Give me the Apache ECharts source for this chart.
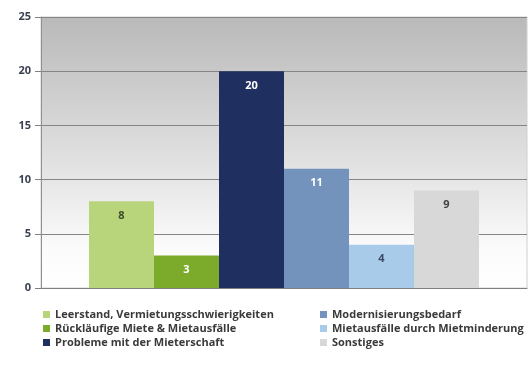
<!DOCTYPE html>
<html>
<head>
<meta charset="utf-8">
<script src="https://cdn.jsdelivr.net/npm/echarts@6/dist/echarts.min.js"></script>
<style>
  html, body { margin: 0; padding: 0; background: #fff; }
  #chart { width: 532px; height: 367px; }
</style>
</head>
<body>
<div id="chart"></div>
<script>
// Kategorien (eine Serie je Balken)
const names = [
  'Leerstand, Vermietungsschwierigkeiten',
  'Rückläufige Miete & Mietausfälle',
  'Probleme mit der Mieterschaft',
  'Modernisierungsbedarf',
  'Mietausfälle durch Mietminderung',
  'Sonstiges'
]
const values = [8, 3, 20, 11, 4, 9]
const colors = ['#b8d57c', '#7cab2c', '#1f2f5f', '#7393bc', '#a8cbea', '#d8d8d8']
const labelColors = ['#3e4a2a', '#ffffff', '#ffffff', '#ffffff', '#3a4a66', '#404040']
const yTicks = [0, 5, 10, 15, 20, 25]

const chart = echarts.init(document.getElementById('chart'))

const series = names.map((n, i) => ({
  name: n,
  type: 'bar',
  data: [values[i]],
  barWidth: 65,
  barGap: '0%',
  itemStyle: { color: colors[i] },
  label: {
    show: true,
    position: 'insideTop',
    distance: 9,
    color: labelColors[i],
    fontWeight: 'bold',
    fontSize: 11,
    fontFamily: 'Open Sans'
  }
}))

const legendText = {
  color: '#3a3a3a',
  fontSize: 11,
  fontWeight: 'bold',
  fontFamily: 'Open Sans'
}

chart.setOption({
  animation: false,
  grid: {
    left: 41,
    right: 5,
    top: 17,
    bottom: 79,
    show: true,
    borderWidth: 1,
    borderColor: '#d0d0d0',
    backgroundColor: new echarts.graphic.LinearGradient(0, 0, 0, 1, [
      { offset: 0, color: '#b9b9b9' },
      { offset: 0.55, color: '#e2e2e2' },
      { offset: 0.85, color: '#fbfbfb' },
      { offset: 1, color: '#ffffff' }
    ])
  },
  legend: [
    {
      orient: 'vertical',
      left: 38,
      top: 304,
      itemWidth: 7,
      itemHeight: 7,
      itemGap: 3,
      icon: 'rect',
      textStyle: legendText,
      data: names.slice(0, 3)
    },
    {
      orient: 'vertical',
      left: 315,
      top: 304,
      itemWidth: 7,
      itemHeight: 7,
      itemGap: 3,
      icon: 'rect',
      textStyle: legendText,
      data: names.slice(3)
    }
  ],
  xAxis: {
    type: 'category',
    data: [''],
    axisLine: { lineStyle: { color: '#808080', width: 1 } },
    axisTick: { show: false },
    axisLabel: { show: false }
  },
  yAxis: {
    type: 'value',
    min: yTicks[0],
    max: yTicks[yTicks.length - 1],
    interval: 5,
    axisLine: { show: true, lineStyle: { color: '#909090' } },
    axisTick: { show: true, length: 6, lineStyle: { color: '#808080' } },
    axisLabel: {
      margin: 10,
      color: '#3a4050',
      fontSize: 11,
      fontWeight: 'bold',
      fontFamily: 'Open Sans'
    },
    splitLine: { lineStyle: { color: '#858585', width: 1 } }
  },
  series: series
})
</script>
</body>
</html>
